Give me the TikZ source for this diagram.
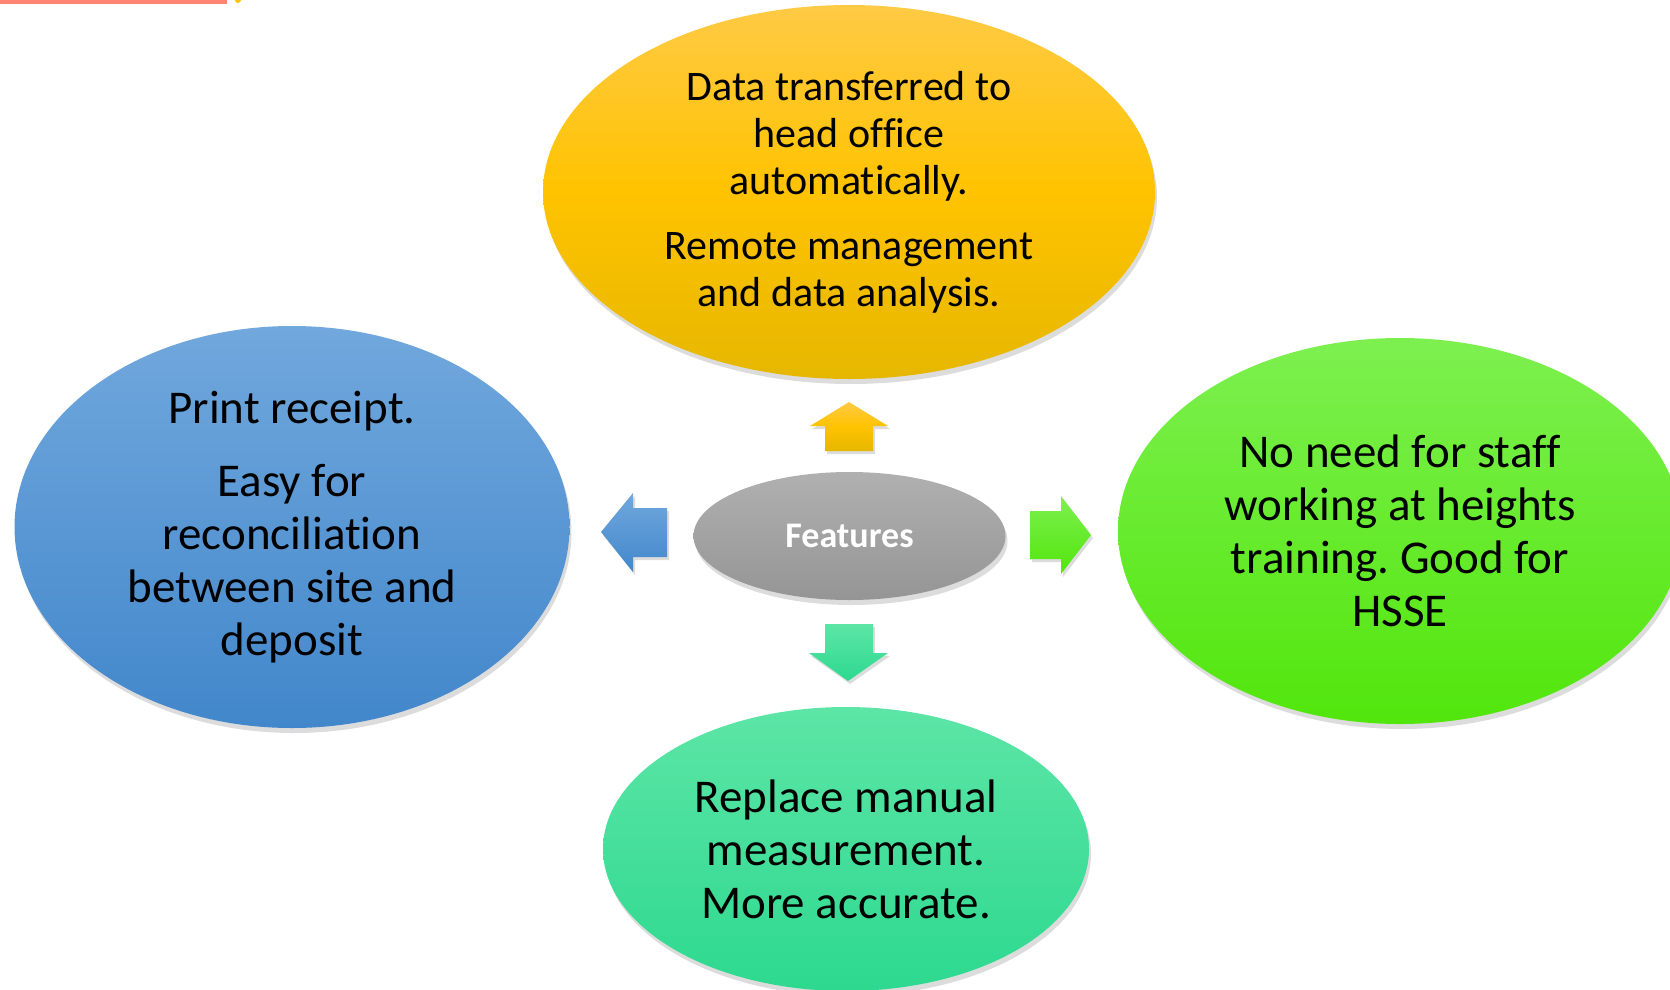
\documentclass[tikz,border=0pt]{standalone}
\usepackage{fontspec}
\setmainfont{Carlito}[Ligatures=NoCommon]
\frenchspacing
\usetikzlibrary{shapes.geometric,shadows}
\definecolor{yelT}{HTML}{FFCA45}
\definecolor{yelM}{HTML}{FFC300}
\definecolor{yelB}{HTML}{E6B700}
\definecolor{bluT}{HTML}{71A8DD}
\definecolor{bluB}{HTML}{4287CB}
\definecolor{grnT}{HTML}{7DF050}
\definecolor{grnB}{HTML}{52E60C}
\definecolor{tealT}{HTML}{5DE5A6}
\definecolor{tealB}{HTML}{2DD98F}
\definecolor{grayT}{HTML}{B0B0B0}
\definecolor{grayB}{HTML}{959595}
\definecolor{redline}{HTML}{FF8474}
\begin{document}
\begin{tikzpicture}[x=1pt,y=-1pt,
  bubble/.style={ellipse, inner sep=0pt, align=center, text=black,
    drop shadow={opacity=0.28, shadow xshift=2pt, shadow yshift=-5pt}},
  blockarrow/.style={drop shadow={opacity=0.28, shadow xshift=2pt, shadow yshift=-3pt}},
  bigtext/.style={font=\fontsize{47}{53}\selectfont},
  midtext/.style={font=\fontsize{42}{47}\selectfont}
]
\useasboundingbox (0,0) rectangle (1670,990);

% top-left remnant
\fill[redline] (0,0) rectangle (227,4);
\fill[yelM] (238,0) circle (3);

% bubbles
\node[bubble, midtext, minimum width=612pt, minimum height=374pt,
  top color=yelT, bottom color=yelB, middle color=yelM] (top) at (849,192)
  {Data transferred to\\head office\\automatically.\\[18pt]Remote management\\and data analysis.};

\node[bubble, bigtext, minimum width=555pt, minimum height=402pt,
  top color=bluT, bottom color=bluB] (left) at (292,527)
  {Print receipt.\\[20pt]Easy for\\reconciliation\\between site and\\deposit};

\node[bubble, bigtext, minimum width=564pt, minimum height=386pt,
  top color=grnT, bottom color=grnB] (right) at (1400,531)
  {No need for staff\\working at heights\\training. Good for\\HSSE};

\node[bubble, bigtext, minimum width=486pt, minimum height=284pt,
  top color=tealT, bottom color=tealB] (bottom) at (846,849)
  {Replace manual\\measurement.\\More accurate.};

\node[bubble, minimum width=312pt, minimum height=128pt,
  top color=grayT, bottom color=grayB, text=white,
  font=\fontsize{36}{40}\selectfont\bfseries] (center) at (849.5,536) {Features};

% block arrows
\path[blockarrow, top color=yelT, bottom color=yelB, middle color=yelM]
  (849,402) -- (888,426) -- (873,426) -- (873,451) -- (825,451) -- (825,426) -- (810,426) -- cycle;
\path[blockarrow, top color=tealT, bottom color=tealB]
  (825,624) -- (873,624) -- (873,653) -- (888,653) -- (848,681) -- (809,653) -- (825,653) -- cycle;
\path[blockarrow, top color=bluT, bottom color=bluB]
  (601,532) -- (633,493) -- (633,508) -- (667,508) -- (667,557) -- (633,557) -- (633,572) -- cycle;
\path[blockarrow, top color=grnT, bottom color=grnB]
  (1030,511) -- (1061,511) -- (1061,496) -- (1091,535) -- (1061,574) -- (1061,559) -- (1030,559) -- cycle;
\end{tikzpicture}
\end{document}
